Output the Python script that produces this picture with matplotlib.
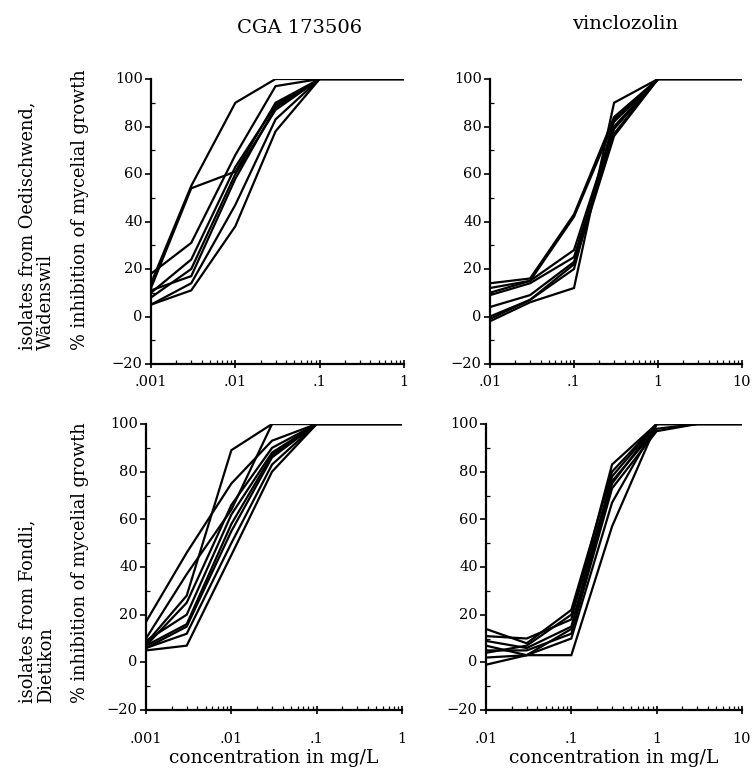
import matplotlib
matplotlib.use("Agg")
import matplotlib.pyplot as plt
from matplotlib.ticker import LogLocator, NullFormatter, FixedLocator, MultipleLocator
from matplotlib.transforms import ScaledTranslation

plt.rcParams['font.family'] = ['DejaVu Serif']

# ---------------- data ----------------
conc_cga = [0.001, 0.003, 0.01, 0.03, 0.1, 1]
conc_vin_top = [0.01, 0.03, 0.1, 0.3, 1, 10]
conc_vin_bot = [0.01, 0.03, 0.1, 0.3, 1, 3, 10]

cga_oedischwend = [
    [14, 55, 90, 100, 100, 100],
    [12, 54, 61, 90, 100, 100],
    [18, 31, 68, 97, 100, 100],
    [10, 24, 63, 89, 100, 100],
    [8, 20, 60, 87, 100, 100],
    [11, 17, 58, 88, 100, 100],
    [5, 14, 47, 83, 100, 100],
    [5, 11, 38, 78, 100, 100],
]
vin_oedischwend = [
    [14, 16, 43, 84, 100, 100],
    [12, 15, 42, 82, 100, 100],
    [10, 15, 28, 80, 100, 100],
    [9, 14, 25, 79, 100, 100],
    [4, 9, 23, 77, 100, 100],
    [0, 7, 22, 76, 100, 100],
    [-1, 7, 20, 83, 100, 100],
    [-2, 6, 12, 90, 100, 100],
]
cga_fondli = [
    [8, 28, 89, 100, 100, 100],
    [17, 46, 75, 93, 100, 100],
    [10, 37, 64, 100, 100, 100],
    [9, 20, 62, 88, 100, 100],
    [7, 16, 58, 87, 100, 100],
    [6, 12, 50, 83, 100, 100],
    [5, 7, 45, 80, 100, 100],
    [6, 15, 55, 86, 100, 100],
    [7, 25, 66, 90, 100, 100],
]
vin_fondli = [
    [14, 8, 22, 80, 100, 100, 100],
    [11, 10, 18, 83, 100, 100, 100],
    [9, 6, 15, 78, 100, 100, 100],
    [7, 3, 14, 75, 100, 100, 100],
    [5, 5, 12, 73, 97, 100, 100],
    [2, 3, 10, 67, 100, 100, 100],
    [-1, 3, 3, 57, 100, 100, 100],
    [4, 7, 20, 76, 98, 100, 100],
]

col_titles = ["CGA 173506", "vinclozolin"]
row_labels = ["isolates from Oedischwend,\nWädenswil", "isolates from Fondli,\nDietikon"]
ylabel = "% inhibition of mycelial growth"
xlabel = "concentration in mg/L"
yticks = [-20, 0, 20, 40, 60, 80, 100]
xticks_cga = [0.001, 0.01, 0.1, 1]
xticklabels_cga = [".001", ".01", ".1", "1"]
xticks_vin = [0.01, 0.1, 1, 10]
xticklabels_vin = [".01", ".1", "1", "10"]

# ---------------- figure ----------------
W, H = 756, 773
fig = plt.figure(figsize=(W / 100, H / 100), dpi=100)

def ax_at(x0, y0, x1, y1):
    return fig.add_axes([x0 / W, 1 - y1 / H, (x1 - x0) / W, (y1 - y0) / H])

axes = {
    (0, 0): ax_at(151, 79, 404, 364),
    (0, 1): ax_at(490, 79, 742, 364),
    (1, 0): ax_at(146, 424, 402, 710),
    (1, 1): ax_at(486, 424, 742, 710),
}
panels = {
    (0, 0): (conc_cga, cga_oedischwend, xticks_cga, xticklabels_cga),
    (0, 1): (conc_vin_top, vin_oedischwend, xticks_vin, xticklabels_vin),
    (1, 0): (conc_cga, cga_fondli, xticks_cga, xticklabels_cga),
    (1, 1): (conc_vin_bot, vin_fondli, xticks_vin, xticklabels_vin),
}

tick_fs = 10.5
lab_fs = 12.8
title_fs = 14
xlab_fs = 13.5
for key, ax in axes.items():
    conc, series, xt, xtl = panels[key]
    for s in series:
        ax.plot(conc, s, color='black', lw=1.6, solid_joinstyle='miter')
    ax.set_xscale('log')
    ax.set_xlim(xt[0], xt[-1])
    ax.set_ylim(-20, 100)
    ax.spines['top'].set_visible(False)
    ax.spines['right'].set_visible(False)
    ax.spines['left'].set_linewidth(1.6)
    ax.spines['bottom'].set_linewidth(1.6)
    ax.xaxis.set_major_locator(FixedLocator(xt))
    ax.set_xticklabels(xtl)
    ax.xaxis.set_minor_locator(LogLocator(base=10, subs=range(2, 10)))
    ax.xaxis.set_minor_formatter(NullFormatter())
    ax.yaxis.set_major_locator(FixedLocator(yticks))
    ax.yaxis.set_minor_locator(MultipleLocator(10))
    xpad = 5 if key[0] == 0 else 13
    ax.tick_params(axis='x', which='major', direction='inout', length=6, width=1.2,
                   labelsize=tick_fs, pad=xpad)
    ax.tick_params(axis='x', which='minor', direction='in', length=3, width=0.9)
    ax.tick_params(axis='y', which='major', direction='out', length=4, width=1.2,
                   labelsize=tick_fs, pad=2)
    ax.tick_params(axis='y', which='minor', direction='in', length=3, width=0.9)
    off = ScaledTranslation(0, -3 / 72, fig.dpi_scale_trans)
    for lab in ax.get_yticklabels():
        lab.set_verticalalignment('baseline')
        lab.set_transform(lab.get_transform() + off)
    if key[0] == 1:
        ax.set_xlabel(xlabel, fontsize=xlab_fs, labelpad=2)

# column titles
fig.text(300 / W, 1 - 28 / H, col_titles[0], ha='center', va='center', fontsize=title_fs)
fig.text(625 / W, 1 - 24 / H, col_titles[1], ha='center', va='center', fontsize=title_fs)

# row labels and y labels
for r, ybot in enumerate([350, 703]):
    fig.text(37 / W, 1 - ybot / H, row_labels[r], rotation=90, ha='center', va='bottom',
             multialignment='left', fontsize=lab_fs, linespacing=1.05)
    fig.text(80 / W, 1 - ybot / H, ylabel, rotation=90, ha='center', va='bottom', fontsize=lab_fs)

fig.savefig("out.png", dpi=100)
